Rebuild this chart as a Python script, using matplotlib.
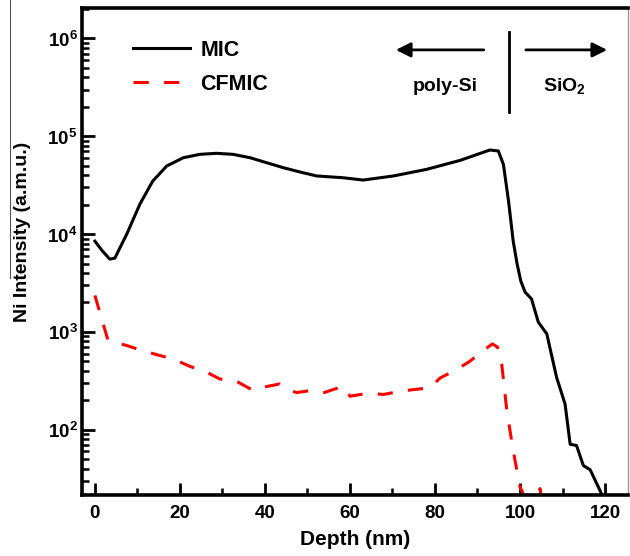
import math
import matplotlib as mpl
mpl.use('Agg')
import matplotlib.pyplot as plt
from matplotlib.lines import Line2D
from matplotlib.ticker import LogLocator, FuncFormatter, MultipleLocator, NullFormatter

plt.rcParams['font.family'] = ['Liberation Sans', 'DejaVu Sans']
plt.rcParams['font.weight'] = 'bold'
plt.rcParams['mathtext.fontset'] = 'custom'
plt.rcParams['mathtext.rm'] = 'Liberation Sans:bold'
plt.rcParams['mathtext.bf'] = 'Liberation Sans:bold'

# Ni depth profiles (SIMS), depth in nm, intensity in a.m.u.
mic_depth = [0, 1.8, 3.5, 4.7, 6.0, 7.5, 10.6, 13.6, 16.9, 20.8, 24.7, 28.6, 32.5,
             36.5, 40.4, 44.3, 48.2, 52.2, 58.4, 63.1, 70.2, 78.0, 85.9, 92.9,
             94.9, 96.1, 97.3, 98.4, 99.3, 100.2, 101.2, 102.7, 104.3, 106.3,
             108.6, 110.6, 111.8, 113.3, 114.9, 116.5, 118.8, 120.3]
mic_int = [8470, 6700, 5550, 5680, 7400, 10000, 20300, 34800, 49700, 60400, 65400,
           67000, 65400, 60400, 53700, 47800, 43200, 39300, 37700, 35700, 39300,
           45900, 56700, 72400, 70800, 51600, 21800, 8480, 5000, 3300, 2550, 2180,
           1260, 955, 344, 183, 71, 69, 43, 39, 24, 17]

cfmic_depth = [0, 3.1, 7.5, 10.6, 15.3, 18.4, 22.4, 25.5, 29.4, 33.3, 37.3, 39.6,
               43.5, 45.9, 47.5, 50.6, 53.7, 58.4, 60.0, 64.7, 67.8, 71.8, 74.9,
               78.8, 81.2, 85.1, 88.2, 92.2, 93.5, 94.7, 95.7, 96.9, 98.4, 100.0,
               100.6, 101.8, 103.6, 104.7, 105.8]
cfmic_int = [2360, 817, 726, 655, 573, 530, 443, 403, 330, 313, 251, 272, 294, 251,
             240, 251, 238, 278, 220, 238, 229, 247, 257, 268, 338, 412, 501, 686,
             754, 700, 468, 157, 61, 26, 23, 14, 14, 25, 12]

fig = plt.figure(figsize=(6.3, 5.56), dpi=100)
ax = fig.add_axes([0.1297, 0.1097, 0.8671, 0.8759])

ax.plot(mic_depth, mic_int, color='black', lw=2.2, label='MIC')
ax.plot(cfmic_depth, cfmic_int, color='red', lw=2.2, dashes=(5, 5), label='CFMIC')

ax.set_yscale('log')
ax.set_xlim(-3.1, 125.4)
ax.set_ylim(21.5, 2.05e6)

ax.xaxis.set_major_locator(MultipleLocator(20))
ax.xaxis.set_minor_locator(MultipleLocator(10))
ax.yaxis.set_major_locator(LogLocator(base=10, numticks=10))
ax.yaxis.set_minor_locator(LogLocator(base=10, subs=range(2, 10), numticks=20))
ax.yaxis.set_minor_formatter(NullFormatter())
ax.yaxis.set_major_formatter(FuncFormatter(lambda v, p: r'$10^{%d}$' % round(math.log10(v))))

ax.tick_params(axis='both', which='major', direction='in', length=9, width=2,
               labelsize=13.5, top=False, right=False)
ax.tick_params(axis='both', which='minor', direction='in', length=5, width=1.8,
               top=False, right=False)
ax.tick_params(axis='x', which='major', pad=7)
ax.tick_params(axis='y', which='major', pad=3)

for side in ['left', 'top', 'bottom']:
    ax.spines[side].set_linewidth(2.6)
ax.spines['right'].set_linewidth(1.0)
ax.spines['right'].set_color('#9a9a9a')

ax.set_xlabel('Depth (nm)', fontsize=15, fontweight='bold', labelpad=6)
ax.set_ylabel('Ni Intensity (a.m.u.)', fontsize=14, fontweight='bold')
ax.yaxis.set_label_coords(-0.093, 0.54)

ax.legend(loc='upper left', bbox_to_anchor=(0.094, 0.935), frameon=False,
          borderpad=0, borderaxespad=0,
          prop={'size': 15.5, 'weight': 'bold'},
          handlelength=2.65, handletextpad=0.47, labelspacing=0.62)

# interface marker between poly-Si and SiO2
ax.annotate('', xy=(0.570, 0.914), xytext=(0.741, 0.914), xycoords='axes fraction',
            arrowprops=dict(arrowstyle='-|>', color='black', lw=2, mutation_scale=22))
ax.annotate('', xy=(0.967, 0.914), xytext=(0.808, 0.914), xycoords='axes fraction',
            arrowprops=dict(arrowstyle='-|>', color='black', lw=2, mutation_scale=22))
ax.plot([0.783, 0.783], [0.786, 0.951], color='black', lw=2, transform=ax.transAxes)
ax.text(0.665, 0.838, 'poly-Si', transform=ax.transAxes, ha='center', va='center',
        fontsize=14, fontweight='bold')
ax.text(0.884, 0.838, r'SiO$_2$', transform=ax.transAxes, ha='center', va='center',
        fontsize=14, fontweight='bold')

# thin frame edge on the left margin
fig.add_artist(Line2D([10 / 630, 10 / 630], [1.0, 1 - 278 / 556], color='#555555', lw=0.8))

fig.savefig('out.png', dpi=100)
